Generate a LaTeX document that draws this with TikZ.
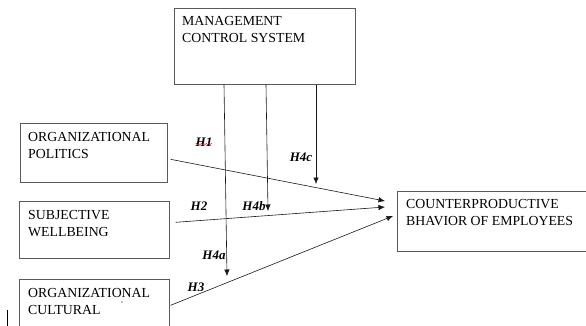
\documentclass[tikz,border=0pt]{standalone}
\usepackage{fontspec}
\setmainfont{Liberation Serif}
\usetikzlibrary{arrows.meta,decorations.pathmorphing}
\colorlet{boxline}{black!65}

\begin{document}
\begin{tikzpicture}[
            x=1pt,y=-1pt,
            box/.style={draw=boxline,semithick,rectangle,inner sep=0pt,anchor=north west},
            boxtext/.style={anchor=base west,inner sep=0pt,align=left,font=\fontsize{13.8}{17}\selectfont},
            hyp/.style={inner sep=0pt,font=\fontsize{13}{15}\selectfont\bfseries\itshape},
            link/.style={-{Latex[length=6.5pt,width=5.5pt]},semithick,black!90}
        ]
            \useasboundingbox (0,0) rectangle (586,325);

            % boxes
            \node [box,minimum width=181,minimum height=76] (mcs) at (174,8) {};
            \node [box,minimum width=147,minimum height=59] (pol) at (20,123) {};
            \node [box,minimum width=150,minimum height=57] (swb) at (19,201) {};
            \node [box,minimum width=150,minimum height=64] (cult) at (19,279) {};
            \node [box,minimum width=195,minimum height=60] (cpb) at (397,191) {};

            % text sits on the last baseline
            \node [boxtext] (mcstext) at (182,42) {MANAGEMENT\\CONTROL SYSTEM};
            \node [boxtext] (poltext) at (28,158) {ORGANIZATIONAL\\POLITICS};
            \node [boxtext] (swbtext) at (28,236) {SUBJECTIVE\\WELLBEING};
            \node [boxtext] (culttext) at (28,314) {ORGANIZATIONAL\\CULTURAL};
            \node [boxtext] (cpbtext) at (406,225) {COUNTERPRODUCTIVE\\BHAVIOR OF EMPLOYEES};

            % arrow ends
            \coordinate (e1) at (385,201);
            \coordinate (e2) at (385,207);
            \coordinate (e3) at (393,216);
            \coordinate (m1) at (227,276);
            \coordinate (m2) at (268,211);
            \coordinate (m3) at (316,184);

            \draw [link] ([shift={(3,6.5)}]pol.east) -- (e1);
            \draw [link] ([shift={(6,-7.5)}]swb.east) -- (e2);
            \draw [link] ([shift={(1,-6)}]cult.east) -- (e3);
            \draw [link] ([xshift=50]mcs.south west) -- (m1);
            \draw [link] ([xshift=92]mcs.south west) -- (m2);
            \draw [link] ([xshift=142]mcs.south west) -- (m3);

            % hypotheses
            \node [hyp] (h1) at (204,142) {H1};
            \node [hyp] (h2) at (199,206) {H2};
            \node [hyp] (h3) at (196,287) {H3};
            \node [hyp] (h4a) at (214,255) {H4a};
            \node [hyp] (h4b) at (254,206) {H4b};
            \node [hyp] (h4c) at (301,157) {H4c};
            \draw [red,thin,decorate,decoration={snake,amplitude=0.6,segment length=2.5}]
                ([yshift=2.5]h1.south west) -- ([yshift=2.5]h1.south east);

            % stray marks
            \fill (122,302) circle (0.7);
            \draw [thick] (7,310) -- (7,326);
        \end{tikzpicture}
\end{document}
